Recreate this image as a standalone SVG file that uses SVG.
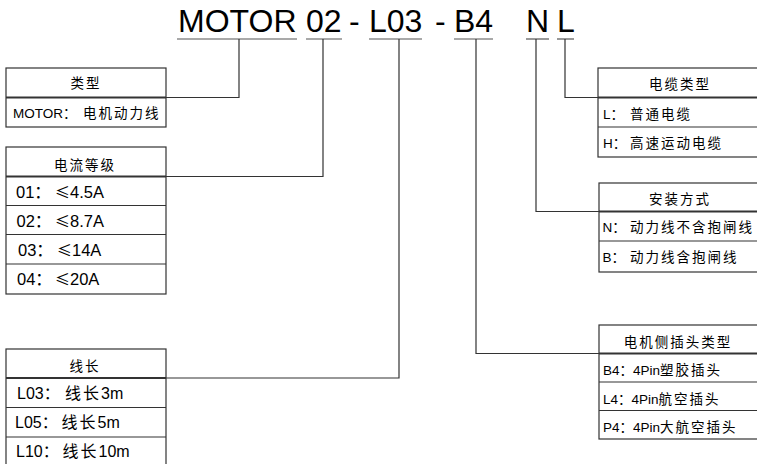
<svg xmlns="http://www.w3.org/2000/svg" width="757" height="464" viewBox="0 0 757 464">
<style>
.bg{fill:#fff}
.box{fill:#fff;stroke:#333;stroke-width:1.2}
.div{stroke:#333;stroke-width:1.2}
.hdiv{stroke:#333;stroke-width:2}
.ul{stroke:#555;stroke-width:1.2}
.con{fill:none;stroke:#333;stroke-width:1.2}
text{font-family:"Liberation Sans","Noto Sans CJK SC",sans-serif;fill:#000}
.title{font-size:32px}
.hd{font-size:13.5px;letter-spacing:2px;text-anchor:middle}
.r{font-size:13.5px}
.r2{font-size:16.5px}
.r3{font-size:16px}
.cj{letter-spacing:2px}
.le{font-family:"Noto Sans CJK SC",sans-serif;font-size:15px}
</style>
<rect class="bg" x="0" y="0" width="757" height="464"/>
<g id="title">
<text class="title" x="178" y="32">MOTOR</text>
<text class="title" x="306" y="32">02</text>
<text class="title" x="349" y="32">-</text>
<text class="title" x="369" y="32">L03</text>
<text class="title" x="435" y="32">-</text>
<text class="title" x="454" y="32">B4</text>
<text class="title" x="526" y="32">N</text>
<text class="title" x="557" y="32">L</text>
<line class="ul" x1="177" y1="39" x2="297" y2="39"/>
<line class="ul" x1="306" y1="39" x2="342" y2="39"/>
<line class="ul" x1="369" y1="39" x2="422" y2="39"/>
<line class="ul" x1="454" y1="39" x2="493" y2="39"/>
<line class="ul" x1="526" y1="39" x2="549" y2="39"/>
<line class="ul" x1="557" y1="39" x2="574" y2="39"/>
</g>
<g id="connectors">
<path class="con" d="M239,39 V97.5 H166"/>
<path class="con" d="M323,39 V176.5 H166"/>
<path class="con" d="M399,39 V378 H166"/>
<path class="con" d="M476,39 V353.5 H599"/>
<path class="con" d="M536,39 V211.5 H599"/>
<path class="con" d="M565,39 V97.5 H598"/>
</g>
<g id="type">
<rect class="box" x="6" y="68" width="160" height="59"/>
<line class="hdiv" x1="6" y1="97.5" x2="166" y2="97.5"/>
<text class="hd" x="86" y="88">类型</text>
<text class="r" x="13" y="118">MOTOR：<tspan x="83" class="cj">电机动力线</tspan></text>
</g>
<g id="current">
<rect class="box" x="6" y="147" width="160" height="147"/>
<line class="hdiv" x1="6" y1="176.5" x2="166" y2="176.5"/>
<line class="div" x1="6" y1="205.5" x2="166" y2="205.5"/>
<line class="div" x1="6" y1="234.5" x2="166" y2="234.5"/>
<line class="div" x1="6" y1="264" x2="166" y2="264"/>
<text class="hd" x="85" y="170">电流等级</text>
<text class="r2" x="16" y="198">01：<tspan x="55" class="le">≤</tspan>4.5A</text>
<text class="r2" x="16.5" y="227">02：<tspan x="55" class="le">≤</tspan>8.7A</text>
<text class="r2" x="18" y="256">03：<tspan x="57" class="le">≤</tspan>14A</text>
<text class="r2" x="17" y="285">04：<tspan x="55" class="le">≤</tspan>20A</text>
</g>
<g id="length">
<rect class="box" x="6" y="349" width="160" height="120"/>
<line class="hdiv" x1="6" y1="378" x2="166" y2="378"/>
<line class="div" x1="6" y1="407.5" x2="166" y2="407.5"/>
<line class="div" x1="6" y1="437" x2="166" y2="437"/>
<text class="hd" x="85" y="371">线长</text>
<text class="r3" x="17" y="399">L03：<tspan x="65" class="cj">线长</tspan>3m</text>
<text class="r3" x="15" y="428">L05：<tspan x="61.5" class="cj">线长</tspan>5m</text>
<text class="r3" x="16" y="457">L10：<tspan x="62.5" class="cj">线长</tspan>10m</text>
</g>
<g id="cable">
<rect class="box" x="598" y="68" width="170" height="89"/>
<line class="hdiv" x1="598" y1="97.5" x2="768" y2="97.5"/>
<line class="div" x1="598" y1="127" x2="768" y2="127"/>
<text class="hd" x="680" y="88.5">电缆类型</text>
<text class="r" x="603" y="119">L：<tspan x="630" class="cj">普通电缆</tspan></text>
<text class="r" x="603" y="148">H：<tspan x="630" class="cj">高速运动电缆</tspan></text>
</g>
<g id="install">
<rect class="box" x="599" y="183" width="170" height="89"/>
<line class="hdiv" x1="599" y1="211.5" x2="769" y2="211.5"/>
<line class="div" x1="599" y1="241" x2="769" y2="241"/>
<text class="hd" x="680" y="203.5">安装方式</text>
<text class="r" x="602.5" y="232">N：<tspan x="630" class="cj">动力线不含抱闸线</tspan></text>
<text class="r" x="602.5" y="262">B：<tspan x="630" class="cj">动力线含抱闸线</tspan></text>
</g>
<g id="plug">
<rect class="box" x="599" y="325" width="170" height="114"/>
<line class="hdiv" x1="599" y1="353.5" x2="769" y2="353.5"/>
<line class="div" x1="599" y1="382" x2="769" y2="382"/>
<line class="div" x1="599" y1="410.5" x2="769" y2="410.5"/>
<text class="hd" x="678" y="347">电机侧插头类型</text>
<text class="r" x="603" y="375">B4：4Pin<tspan class="cj">塑胶插头</tspan></text>
<text class="r" x="603" y="403.5">L4：4Pin<tspan class="cj">航空插头</tspan></text>
<text class="r" x="603" y="432">P4：4Pin<tspan class="cj">大航空插头</tspan></text>
</g>
</svg>
